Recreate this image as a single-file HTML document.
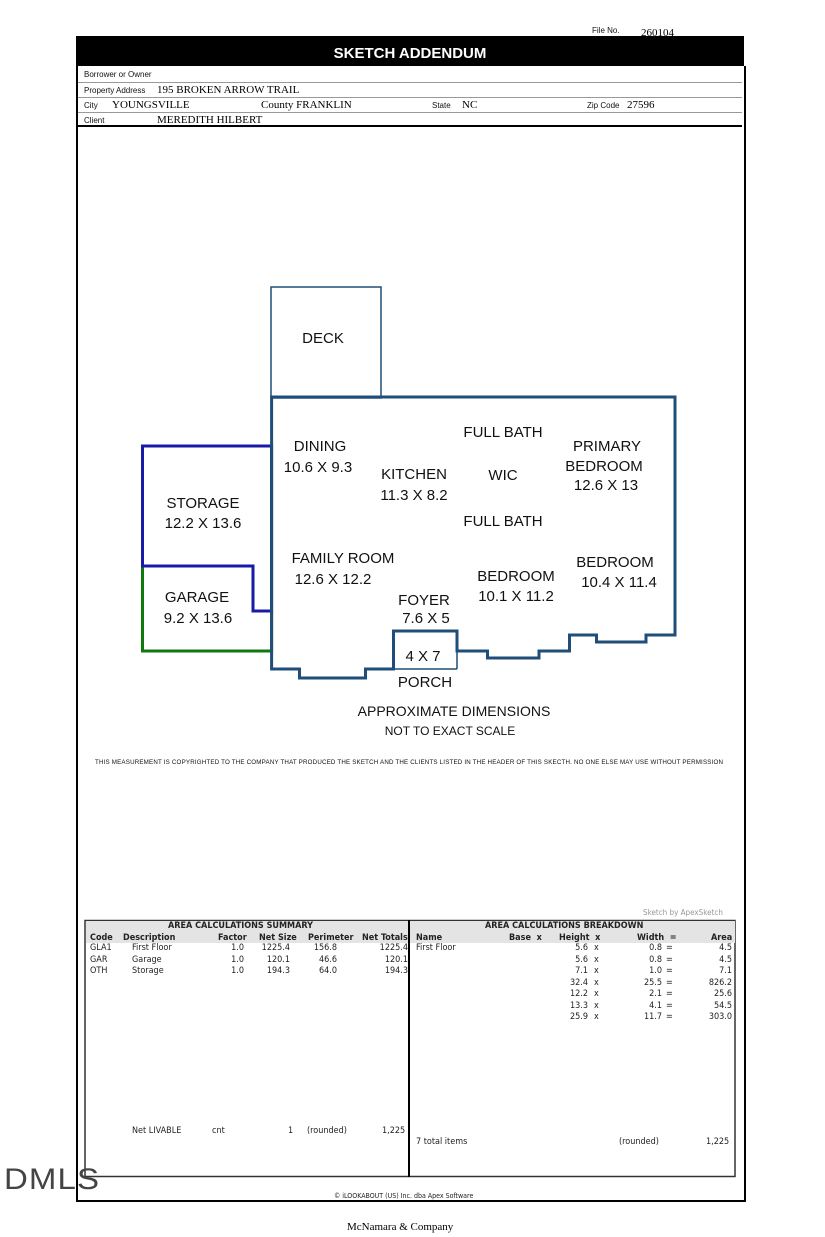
<!DOCTYPE html>
<html><head><meta charset="utf-8"><style>
body{margin:0;width:825px;height:1237px;background:#fff;position:relative;overflow:hidden;font-family:"Liberation Sans",sans-serif}
.a{position:absolute;white-space:nowrap}
.s{font-family:"Liberation Serif",serif}
.t{font-family:"DejaVu Sans Condensed","DejaVu Sans",sans-serif;font-size:9px;color:#222}
.l{font-size:8px;color:#111}
</style></head><body>
<div class="a l" style="left:592px;top:26px">File No.</div>
<div class="a s" style="left:641px;top:27px;font-size:11px">260104</div>
<div class="a" style="left:76px;top:36px;width:668px;height:30px;background:#000;color:#fff;font-weight:bold;font-size:15px;text-align:center;line-height:36px">SKETCH ADDENDUM</div>
<div class="a" style="left:76px;top:66px;width:666px;height:1134px;border:2px solid #000;border-top:none"></div>
<div class="a" style="left:78px;top:82px;width:664px;border-top:1px solid #999"></div>
<div class="a" style="left:78px;top:97px;width:664px;border-top:1px solid #999"></div>
<div class="a" style="left:78px;top:112px;width:664px;border-top:1px solid #999"></div>
<div class="a" style="left:78px;top:125px;width:664px;border-top:2px solid #000"></div>
<div class="a l" style="left:84px;top:70px">Borrower or Owner</div>
<div class="a l" style="left:84px;top:86px">Property Address</div>
<div class="a s" style="left:157px;top:84px;font-size:11px">195 BROKEN ARROW TRAIL</div>
<div class="a l" style="left:84px;top:101px">City</div>
<div class="a s" style="left:112px;top:99px;font-size:11px">YOUNGSVILLE</div>
<div class="a s" style="left:261px;top:99px;font-size:11px">County FRANKLIN</div>
<div class="a l" style="left:432px;top:101px">State</div>
<div class="a s" style="left:462px;top:99px;font-size:11px">NC</div>
<div class="a l" style="left:587px;top:101px">Zip Code</div>
<div class="a s" style="left:627px;top:99px;font-size:11px">27596</div>
<div class="a l" style="left:84px;top:116px">Client</div>
<div class="a s" style="left:157px;top:114px;font-size:11px">MEREDITH HILBERT</div>

<svg class="a" style="left:0;top:0" width="825" height="1237">
<g fill="none" stroke-width="3" stroke-linejoin="miter">
<rect x="271" y="287" width="110" height="111" stroke="#1f4e79" stroke-width="1.5"/>
<polyline stroke="#107a10" points="142.5,566 142.5,651 271.6,651 271.6,611"/>
<polygon stroke="#1a1aa8" points="142.5,446 271.6,446 271.6,611 253,611 253,566 142.5,566"/>
<polygon stroke="#1f4e79" points="271.6,397 675,397 675,635 646,635 646,642 596.5,642 596.5,635 569.5,635 569.5,651 539,651 539,658 487.5,658 487.5,651 457,651 457,631 393.5,631 393.5,669 365.5,669 365.5,678 299.5,678 299.5,669 271.6,669"/>
<line x1="393.5" y1="669" x2="457" y2="669" stroke="#1f4e79" stroke-width="1.5"/>
<line x1="457" y1="651" x2="457" y2="669" stroke="#1f4e79" stroke-width="1.5"/>
</g>
<g font-family="Liberation Sans, sans-serif" font-size="15" text-anchor="middle" fill="#111">
<text x="323" y="343">DECK</text>
<text x="320" y="451">DINING</text><text x="318" y="472">10.6 X 9.3</text>
<text x="414" y="479">KITCHEN</text><text x="414" y="500">11.3 X 8.2</text>
<text x="503" y="437">FULL BATH</text><text x="503" y="480">WIC</text><text x="503" y="526">FULL BATH</text>
<text x="607" y="451">PRIMARY</text><text x="604" y="471">BEDROOM</text><text x="606" y="490">12.6 X 13</text>
<text x="203" y="508">STORAGE</text><text x="203" y="528">12.2 X 13.6</text>
<text x="197" y="602">GARAGE</text><text x="198" y="623">9.2 X 13.6</text>
<text x="343" y="563">FAMILY ROOM</text><text x="333" y="584">12.6 X 12.2</text>
<text x="424" y="605">FOYER</text><text x="426" y="623">7.6 X 5</text>
<text x="516" y="581">BEDROOM</text><text x="516" y="601">10.1 X 11.2</text>
<text x="615" y="567">BEDROOM</text><text x="619" y="587">10.4 X 11.4</text>
<text x="423" y="661">4 X 7</text><text x="425" y="687">PORCH</text>
<text x="454" y="716" font-size="14">APPROXIMATE DIMENSIONS</text>
<text x="450" y="735" font-size="12">NOT TO EXACT SCALE</text>
</g>
<text x="95" y="764" font-family="Liberation Sans, sans-serif" font-size="6.2" fill="#111" textLength="628">THIS MEASUREMENT IS COPYRIGHTED TO THE COMPANY THAT PRODUCED THE SKETCH AND THE CLIENTS LISTED IN THE HEADER OF THIS SKECTH. NO ONE ELSE MAY USE WITHOUT PERMISSION</text>
<rect x="85" y="920.5" width="650" height="256" fill="none" stroke="#333" stroke-width="1.5"/>
<rect x="86" y="921" width="649" height="22" fill="#e4e4e4"/>
<line x1="409" y1="920" x2="409" y2="1177" stroke="#000" stroke-width="2"/>
</svg>
<div class="a t" style="left:643px;top:908px;color:#999;font-size:8px">Sketch by ApexSketch</div>
<div class="a t" style="left:168px;top:921px;font-weight:bold">AREA CALCULATIONS SUMMARY</div>
<div class="a t" style="left:485px;top:921px;font-weight:bold">AREA CALCULATIONS BREAKDOWN</div>
<div class="a t" style="left:90px;top:933px;font-weight:bold">Code</div>
<div class="a t" style="left:123px;top:933px;font-weight:bold">Description</div>
<div class="a t" style="left:218px;top:933px;font-weight:bold">Factor</div>
<div class="a t" style="left:259px;top:933px;font-weight:bold">Net Size</div>
<div class="a t" style="left:308px;top:933px;font-weight:bold">Perimeter</div>
<div class="a t" style="left:362px;top:933px;font-weight:bold">Net Totals</div>
<div class="a t" style="left:416px;top:933px;font-weight:bold">Name</div>
<div class="a t" style="left:509px;top:933px;font-weight:bold">Base &nbsp;x</div>
<div class="a t" style="left:559px;top:933px;font-weight:bold">Height &nbsp;x</div>
<div class="a t" style="left:637px;top:933px;font-weight:bold">Width &nbsp;=</div>
<div class="a t" style="left:711px;top:933px;font-weight:bold">Area</div>
<div class="a t" style="left:90px;top:943px;line-height:11.5px">GLA1<br>GAR<br>OTH</div>
<div class="a t" style="left:132px;top:943px;line-height:11.5px">First Floor<br>Garage<br>Storage</div>
<div class="a t" style="left:218px;top:943px;line-height:11.5px;width:26px;text-align:right">1.0<br>1.0<br>1.0</div>
<div class="a t" style="left:250px;top:943px;line-height:11.5px;width:40px;text-align:right">1225.4<br>120.1<br>194.3</div>
<div class="a t" style="left:300px;top:943px;line-height:11.5px;width:37px;text-align:right">156.8<br>46.6<br>64.0</div>
<div class="a t" style="left:360px;top:943px;line-height:11.5px;width:48px;text-align:right">1225.4<br>120.1<br>194.3</div>
<div class="a t" style="left:416px;top:943px">First Floor</div>
<div class="a t" style="left:550px;top:943px;line-height:11.5px;width:38px;text-align:right">5.6<br>5.6<br>7.1<br>32.4<br>12.2<br>13.3<br>25.9</div>
<div class="a t" style="left:594px;top:943px;line-height:11.5px">x<br>x<br>x<br>x<br>x<br>x<br>x</div>
<div class="a t" style="left:630px;top:943px;line-height:11.5px;width:32px;text-align:right">0.8<br>0.8<br>1.0<br>25.5<br>2.1<br>4.1<br>11.7</div>
<div class="a t" style="left:666px;top:943px;line-height:11.5px">=<br>=<br>=<br>=<br>=<br>=<br>=</div>
<div class="a t" style="left:690px;top:943px;line-height:11.5px;width:42px;text-align:right">4.5<br>4.5<br>7.1<br>826.2<br>25.6<br>54.5<br>303.0</div>
<div class="a t" style="left:132px;top:1126px">Net LIVABLE</div>
<div class="a t" style="left:212px;top:1126px">cnt</div>
<div class="a t" style="left:288px;top:1126px">1</div>
<div class="a t" style="left:307px;top:1126px">(rounded)</div>
<div class="a t" style="left:382px;top:1126px">1,225</div>
<div class="a t" style="left:416px;top:1137px">7 total items</div>
<div class="a t" style="left:619px;top:1137px">(rounded)</div>
<div class="a t" style="left:706px;top:1137px">1,225</div>
<div class="a t" style="left:334px;top:1192px;font-size:7px">© iLOOKABOUT (US) Inc. dba Apex Software</div>
<div class="a" style="left:4px;top:1163px;font-size:30px;font-weight:100;color:#444;letter-spacing:1px;transform:scaleX(1.1);transform-origin:left">DMLS</div>
<div class="a s" style="left:347px;top:1221px;font-size:11px">McNamara &amp; Company</div>
</body></html>
